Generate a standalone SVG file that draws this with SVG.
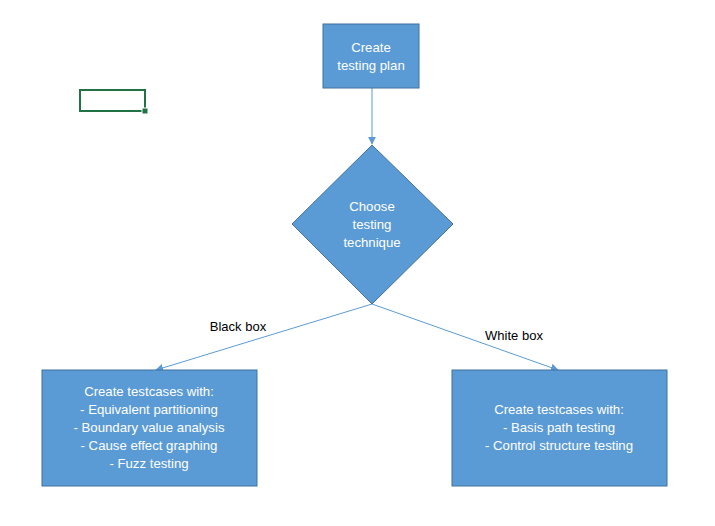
<svg xmlns="http://www.w3.org/2000/svg" width="715" height="526" viewBox="0 0 715 526">
<defs>
<style>
.node{fill:#5B9BD5;stroke:#41719C;stroke-width:1}
.t{font-family:"Liberation Sans",Arial,sans-serif;font-size:13.2px;fill:#fff;text-anchor:middle}
.lbl{font-family:"Liberation Sans",Arial,sans-serif;font-size:13px;fill:#000;text-anchor:middle}
.edge{stroke:#5B9BD5;stroke-width:1;fill:none;marker-end:url(#ah)}
</style>
<marker id="ah" viewBox="0 0 10 10" refX="9" refY="5" markerWidth="8" markerHeight="8" orient="auto" markerUnits="userSpaceOnUse">
<path d="M0,0 L10,5 L0,10 z" fill="#5B9BD5"/>
</marker>
</defs>
<rect width="715" height="526" fill="#fff"/>
<g id="cell">
<rect x="80" y="90" width="65" height="21" fill="none" stroke="#217346" stroke-width="2"/>
<rect x="142" y="108" width="6" height="6" fill="#217346" stroke="#fff" stroke-width="1"/>
</g>
<g id="connectors">
<line class="edge" x1="372" y1="88" x2="372" y2="144"/>
<line class="edge" x1="372" y1="304" x2="156" y2="370"/>
<line class="edge" x1="372" y1="304" x2="558" y2="370"/>
</g>
<g id="plan">
<rect class="node" x="323" y="24" width="96" height="64"/>
<text class="t" x="371" y="52">Create</text>
<text class="t" x="371" y="70">testing plan</text>
</g>
<g id="choose">
<polygon class="node" points="372,145 453,224 372,304 292,224"/>
<text class="t" x="372" y="211">Choose</text>
<text class="t" x="372" y="229">testing</text>
<text class="t" x="372" y="247">technique</text>
</g>
<g id="label-black">
<text class="lbl" x="238" y="331">Black box</text>
</g>
<g id="label-white">
<text class="lbl" x="514" y="340">White box</text>
</g>
<g id="blackbox">
<rect class="node" x="42" y="370" width="215" height="116"/>
<text class="t" x="149" y="396">Create testcases with:</text>
<text class="t" x="149" y="414">- Equivalent partitioning</text>
<text class="t" x="149" y="432">- Boundary value analysis</text>
<text class="t" x="149" y="450">- Cause effect graphing</text>
<text class="t" x="149" y="468">- Fuzz testing</text>
</g>
<g id="whitebox">
<rect class="node" x="452" y="370" width="215" height="116"/>
<text class="t" x="559" y="414">Create testcases with:</text>
<text class="t" x="559" y="432">- Basis path testing</text>
<text class="t" x="559" y="450">- Control structure testing</text>
</g>
</svg>
